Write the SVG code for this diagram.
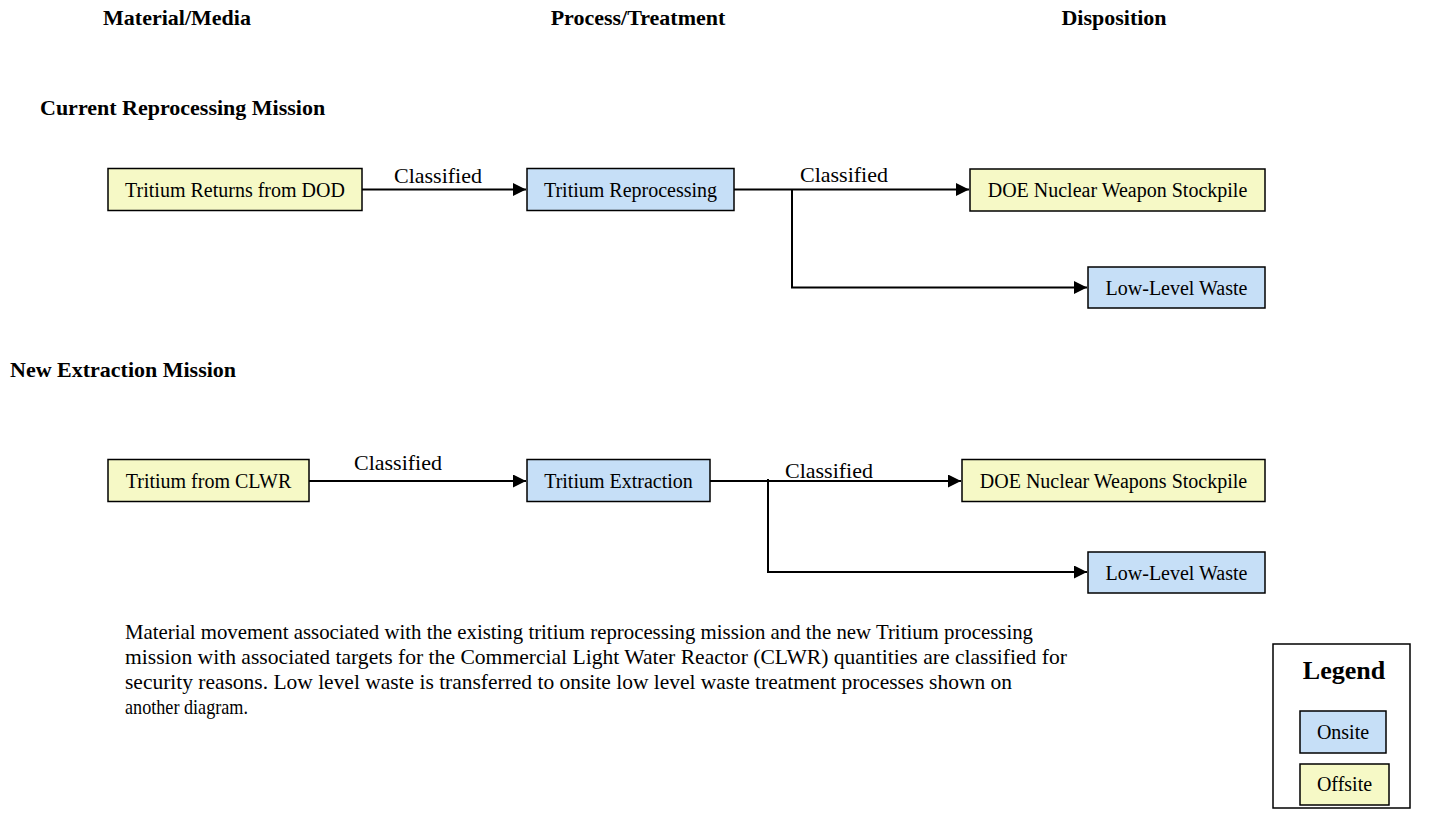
<svg xmlns="http://www.w3.org/2000/svg" width="1438" height="821" viewBox="0 0 1438 821">
<style>
text{font-family:"Liberation Serif","Times New Roman",serif;fill:#000}
.h{font-weight:bold;font-size:22px}
.nt{font-size:20px;text-anchor:middle}
.lbl{font-size:22px;text-anchor:middle}
.p{font-size:21px}
.on{fill:#C6DFF7;stroke:#000;stroke-width:1.5}
.off{fill:#F6F9C6;stroke:#000;stroke-width:1.5}
.c{fill:none;stroke:#000;stroke-width:2}
</style>
<defs>
<marker id="ah" viewBox="0 0 10 10" refX="10" refY="5" markerWidth="13" markerHeight="13" markerUnits="userSpaceOnUse" orient="auto">
<path d="M0,0 L10,5 L0,10 z" fill="#000"/>
</marker>
</defs>
<rect width="1438" height="821" fill="#fff"/>
<g id="headers">
<text class="h" x="177" y="25" text-anchor="middle">Material/Media</text>
<text class="h" x="638" y="25" text-anchor="middle">Process/Treatment</text>
<text class="h" x="1114" y="25" text-anchor="middle">Disposition</text>
<text class="h" x="40" y="115">Current Reprocessing Mission</text>
<text class="h" x="10" y="377">New Extraction Mission</text>
</g>
<g id="connectors">
<path class="c" d="M362,189.5 H526" marker-end="url(#ah)"/>
<path class="c" d="M734,189.5 H969" marker-end="url(#ah)"/>
<path class="c" d="M792,189.5 V287.5 H1087" marker-end="url(#ah)"/>
<path class="c" d="M309,481 H526" marker-end="url(#ah)"/>
<path class="c" d="M710,481 H961" marker-end="url(#ah)"/>
<path class="c" d="M768,479 V572 H1087" marker-end="url(#ah)"/>
<text class="lbl" x="438" y="183">Classified</text>
<text class="lbl" x="844" y="182">Classified</text>
<text class="lbl" x="398" y="470">Classified</text>
<text class="lbl" x="829" y="478">Classified</text>
</g>
<g id="n1"><rect class="off" x="108" y="168.5" width="254" height="42"/><text class="nt" x="235" y="196.5">Tritium Returns from DOD</text></g>
<g id="n2"><rect class="on" x="527" y="168.5" width="207" height="42"/><text class="nt" x="630.5" y="196.5">Tritium Reprocessing</text></g>
<g id="n3"><rect class="off" x="970" y="169" width="295" height="42"/><text class="nt" x="1117.5" y="197">DOE Nuclear Weapon Stockpile</text></g>
<g id="n4"><rect class="on" x="1088" y="267" width="177" height="41"/><text class="nt" x="1176.5" y="294.5">Low-Level Waste</text></g>
<g id="n5"><rect class="off" x="108" y="459.5" width="201" height="42"/><text class="nt" x="208.5" y="487.5">Tritium from CLWR</text></g>
<g id="n6"><rect class="on" x="527" y="459.5" width="183" height="42"/><text class="nt" x="618.5" y="487.5">Tritium Extraction</text></g>
<g id="n7"><rect class="off" x="962" y="459.5" width="303" height="42"/><text class="nt" x="1113.5" y="487.5">DOE Nuclear Weapons Stockpile</text></g>
<g id="n8"><rect class="on" x="1088" y="552" width="177" height="41"/><text class="nt" x="1176.5" y="579.5">Low-Level Waste</text></g>
<g id="note">
<text class="p" x="125" y="639" textLength="908" lengthAdjust="spacingAndGlyphs">Material movement associated with the existing tritium reprocessing mission and the new Tritium processing</text>
<text class="p" x="125" y="664" textLength="942" lengthAdjust="spacingAndGlyphs">mission with associated targets for the Commercial Light Water Reactor (CLWR) quantities are classified for</text>
<text class="p" x="125" y="689" textLength="887" lengthAdjust="spacingAndGlyphs">security reasons. Low level waste is transferred to onsite low level waste treatment processes shown on</text>
<text class="p" x="125" y="714" textLength="123" lengthAdjust="spacingAndGlyphs">another diagram.</text>
</g>
<g id="legend">
<rect x="1273" y="644" width="137" height="164" fill="#fff" stroke="#000" stroke-width="1.5"/>
<text x="1344" y="679" text-anchor="middle" font-weight="bold" font-size="26">Legend</text>
<g id="legend-onsite"><rect class="on" x="1300" y="711" width="86" height="42"/><text class="nt" x="1343" y="739">Onsite</text></g>
<g id="legend-offsite"><rect class="off" x="1300" y="764" width="89" height="41"/><text class="nt" x="1344.5" y="791">Offsite</text></g>
</g>
</svg>
